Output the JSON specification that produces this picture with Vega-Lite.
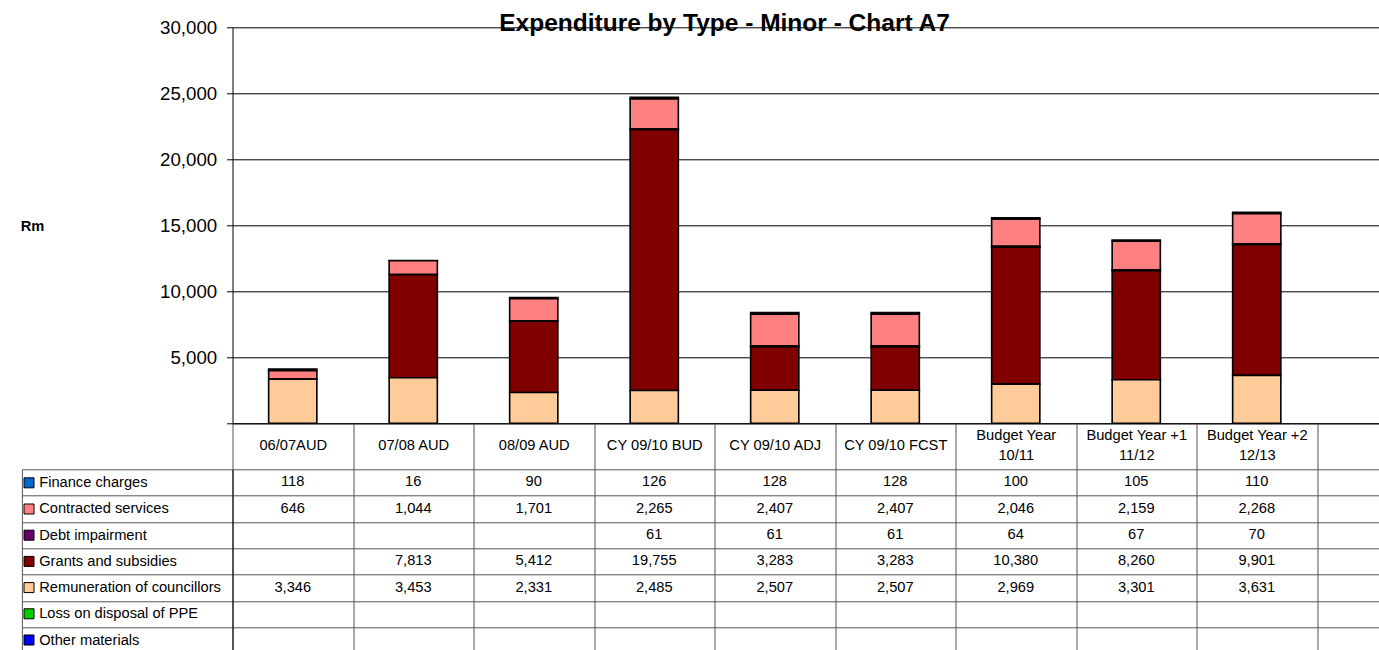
{
  "$schema": "https://vega.github.io/schema/vega-lite/v6.json",
  "autosize": {"type": "none"},
  "padding": {"left": 232.5, "top": 27.3, "right": 1146.5, "bottom": 622.7},
  "background": "white",
  "config": {"view": {"stroke": null}, "font": "Liberation Sans"},
  "bounds": "flush",
  "spacing": 46,
  "resolve": {"scale": {"x": "independent", "y": "independent"}},
  "datasets": {
    "exp": [
      {"category": "06/07AUD", "series": "Finance charges", "value": 118},
      {"category": "06/07AUD", "series": "Contracted services", "value": 646},
      {"category": "06/07AUD", "series": "Remuneration of councillors", "value": 3346},
      {"category": "07/08 AUD", "series": "Finance charges", "value": 16},
      {"category": "07/08 AUD", "series": "Contracted services", "value": 1044},
      {"category": "07/08 AUD", "series": "Grants and subsidies", "value": 7813},
      {"category": "07/08 AUD", "series": "Remuneration of councillors", "value": 3453},
      {"category": "08/09 AUD", "series": "Finance charges", "value": 90},
      {"category": "08/09 AUD", "series": "Contracted services", "value": 1701},
      {"category": "08/09 AUD", "series": "Grants and subsidies", "value": 5412},
      {"category": "08/09 AUD", "series": "Remuneration of councillors", "value": 2331},
      {"category": "CY 09/10 BUD", "series": "Finance charges", "value": 126},
      {"category": "CY 09/10 BUD", "series": "Contracted services", "value": 2265},
      {"category": "CY 09/10 BUD", "series": "Debt impairment", "value": 61},
      {"category": "CY 09/10 BUD", "series": "Grants and subsidies", "value": 19755},
      {"category": "CY 09/10 BUD", "series": "Remuneration of councillors", "value": 2485},
      {"category": "CY  09/10 ADJ", "series": "Finance charges", "value": 128},
      {"category": "CY  09/10 ADJ", "series": "Contracted services", "value": 2407},
      {"category": "CY  09/10 ADJ", "series": "Debt impairment", "value": 61},
      {"category": "CY  09/10 ADJ", "series": "Grants and subsidies", "value": 3283},
      {"category": "CY  09/10 ADJ", "series": "Remuneration of councillors", "value": 2507},
      {"category": "CY 09/10  FCST", "series": "Finance charges", "value": 128},
      {"category": "CY 09/10  FCST", "series": "Contracted services", "value": 2407},
      {"category": "CY 09/10  FCST", "series": "Debt impairment", "value": 61},
      {"category": "CY 09/10  FCST", "series": "Grants and subsidies", "value": 3283},
      {"category": "CY 09/10  FCST", "series": "Remuneration of councillors", "value": 2507},
      {"category": "Budget Year 10/11", "series": "Finance charges", "value": 100},
      {"category": "Budget Year 10/11", "series": "Contracted services", "value": 2046},
      {"category": "Budget Year 10/11", "series": "Debt impairment", "value": 64},
      {"category": "Budget Year 10/11", "series": "Grants and subsidies", "value": 10380},
      {"category": "Budget Year 10/11", "series": "Remuneration of councillors", "value": 2969},
      {"category": "Budget Year +1 11/12", "series": "Finance charges", "value": 105},
      {"category": "Budget Year +1 11/12", "series": "Contracted services", "value": 2159},
      {"category": "Budget Year +1 11/12", "series": "Debt impairment", "value": 67},
      {"category": "Budget Year +1 11/12", "series": "Grants and subsidies", "value": 8260},
      {"category": "Budget Year +1 11/12", "series": "Remuneration of councillors", "value": 3301},
      {"category": "Budget Year +2 12/13", "series": "Finance charges", "value": 110},
      {"category": "Budget Year +2 12/13", "series": "Contracted services", "value": 2268},
      {"category": "Budget Year +2 12/13", "series": "Debt impairment", "value": 70},
      {"category": "Budget Year +2 12/13", "series": "Grants and subsidies", "value": 9901},
      {"category": "Budget Year +2 12/13", "series": "Remuneration of councillors", "value": 3631}
    ]
  },
  "vconcat": [
    {
      "width": 1146,
      "height": 396,
      "data": {"name": "exp"},
      "transform": [
        {"calculate": "indexof(['Remuneration of councillors', 'Grants and subsidies', 'Debt impairment', 'Contracted services', 'Finance charges'], datum.series)", "as": "stackOrder"}
      ],
      "title": {
        "text": "Expenditure by Type - Minor - Chart A7",
        "font": "Liberation Sans",
        "fontSize": 24.5,
        "fontWeight": "bold",
        "color": "black",
        "anchor": "middle",
        "frame": "group",
        "dx": -81,
        "offset": -37,
        "baseline": "alphabetic"
      },
      "mark": {"type": "bar", "width": {"band": 0.4}, "stroke": "black", "strokeWidth": 1.6},
      "encoding": {
        "x": {
          "field": "category",
          "type": "nominal",
          "scale": {
            "domain": ["06/07AUD", "07/08 AUD", "08/09 AUD", "CY 09/10 BUD", "CY  09/10 ADJ", "CY 09/10  FCST", "Budget Year 10/11", "Budget Year +1 11/12", "Budget Year +2 12/13", " "],
            "range": [0, 1205],
            "paddingInner": 0,
            "paddingOuter": 0
          },
          "axis": {
            "orient": "bottom",
            "title": null,
            "tickBand": "extent",
            "tickSize": 46,
            "tickColor": "#555555",
            "domainColor": "black",
            "labelAngle": 0,
            "labelFontSize": 14.67,
            "labelColor": "black",
            "labelBaseline": "middle",
            "labelPadding": -33.5,
            "labelLineHeight": 9.65,
            "labelExpr": "indexof(datum.label, 'Budget') == 0 ? [slice(datum.label, 0, lastindexof(datum.label, ' ')), '\u2800', slice(datum.label, lastindexof(datum.label, ' ') + 1)] : ['', datum.label]",
            "grid": false
          }
        },
        "y": {
          "field": "value",
          "type": "quantitative",
          "stack": "zero",
          "scale": {"domain": [0, 30000]},
          "axis": {
            "values": [0, 5000, 10000, 15000, 20000, 25000, 30000],
            "labelExpr": "datum.value == 0 ? '' : format(datum.value, ',')",
            "title": "Rm",
            "titleAngle": 0,
            "titleX": -200.5,
            "titleY": 198.7,
            "titleAlign": "center",
            "titleBaseline": "middle",
            "titleFontSize": 14.67,
            "titleFontWeight": "bold",
            "titleColor": "black",
            "labelFontSize": 18.7,
            "labelColor": "black",
            "labelPadding": 9.8,
            "tickSize": 6,
            "tickColor": "black",
            "domainColor": "black",
            "grid": true,
            "gridColor": "black",
            "gridWidth": 1
          }
        },
        "color": {
          "field": "series",
          "type": "nominal",
          "scale": {
            "domain": ["Finance charges", "Contracted services", "Debt impairment", "Grants and subsidies", "Remuneration of councillors", "Loss on disposal of PPE", "Other materials"],
            "range": ["#0066CC", "#FF8080", "#660066", "#800000", "#FFCC99", "#00CC00", "#0000FF"]
          },
          "legend": {
            "orient": "none",
            "legendX": -209,
            "legendY": 450,
            "title": null,
            "symbolType": "square",
            "symbolSize": 100,
            "symbolStrokeColor": "black",
            "symbolStrokeWidth": 1,
            "symbolOpacity": 1,
            "labelExpr": "''",
            "labelFontSize": 1,
            "rowPadding": 11.2,
            "padding": 0
          }
        },
        "order": {"field": "stackOrder", "type": "quantitative"}
      }
    },
    {
      "width": 1146,
      "height": 184.1,
      "data": {"name": "exp"},
      "layer": [
        {
          "mark": {"type": "text", "fontSize": 14.67, "font": "Liberation Sans", "color": "black", "baseline": "middle"},
          "encoding": {
            "x": {
              "field": "category",
              "type": "nominal",
              "scale": {
                "domain": ["06/07AUD", "07/08 AUD", "08/09 AUD", "CY 09/10 BUD", "CY  09/10 ADJ", "CY 09/10  FCST", "Budget Year 10/11", "Budget Year +1 11/12", "Budget Year +2 12/13", " "],
                "range": [0, 1205],
                "paddingInner": 0,
                "paddingOuter": 0
              },
              "axis": {"orient": "top", "title": null, "grid": true, "tickBand": "extent", "gridColor": "#555555", "labels": false, "ticks": false, "domain": false}
            },
            "y": {
              "field": "series",
              "type": "nominal",
              "scale": {
                "domain": ["Finance charges", "Contracted services", "Debt impairment", "Grants and subsidies", "Remuneration of councillors", "Loss on disposal of PPE", "Other materials"],
                "range": [0, 184.1],
                "paddingInner": 0,
                "paddingOuter": 0
              },
              "axis": {
                "orient": "left",
                "title": null,
                "tickBand": "extent",
                "grid": true,
                "gridColor": "#555555",
                "tickSize": 210.6,
                "tickColor": "#555555",
                "domainColor": "black",
                "labelAlign": "left",
                "labelPadding": -16.8,
                "labelFontSize": 14.67,
                "labelColor": "black",
                "labelBaseline": "middle",
                "labelLimit": 0
              }
            },
            "text": {"field": "value", "type": "quantitative", "format": ","}
          }
        },
        {
          "mark": {"type": "text", "opacity": 0},
          "encoding": {
            "y": {
              "field": "series",
              "type": "nominal",
              "axis": {"orient": "left", "offset": 210.6, "title": null, "labels": false, "ticks": false, "grid": false, "domainColor": "#555555"}
            }
          }
        }
      ],
      "resolve": {"axis": {"y": "independent"}}
    }
  ]
}
